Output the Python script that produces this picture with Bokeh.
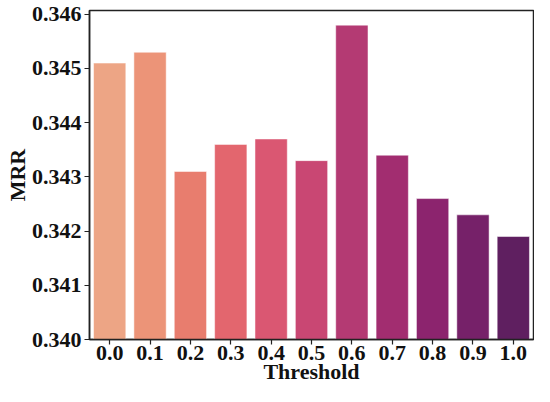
from bokeh.plotting import figure
from bokeh.models import Range1d, FixedTicker, NumeralTickFormatter, ColumnDataSource
from bokeh.embed import file_html
from bokeh.resources import INLINE

thresholds = ["0.0", "0.1", "0.2", "0.3", "0.4", "0.5", "0.6", "0.7", "0.8", "0.9", "1.0"]
mrr = [0.3451, 0.3453, 0.3431, 0.3436, 0.3437, 0.3433, 0.3458, 0.3434, 0.3426, 0.3423, 0.3419]
colors = ["#EDA585", "#EC9478", "#E87D6E", "#E3666E", "#DA5772", "#C94773",
          "#B43A73", "#A22D70", "#8C246E", "#762169", "#5F1F60"]
y_ticks = [0.340, 0.341, 0.342, 0.343, 0.344, 0.345, 0.346]

FONT = "Liberation Serif"

src = ColumnDataSource(dict(x=thresholds, top=mrr, color=colors))

p = figure(x_range=thresholds, y_range=Range1d(0.340, 0.34607),
           width=534, height=386, output_backend="svg", toolbar_location=None,
           min_border_left=89, min_border_right=1, min_border_top=10, min_border_bottom=46)

p.vbar(x="x", top="top", bottom=0, width=0.8, fill_color="color",
       line_color="white", line_alpha=0.5, line_width=1, source=src)

p.xgrid.visible = False
p.ygrid.visible = False
p.outline_line_color = "#222222"
p.outline_line_width = 1.5
p.background_fill_color = "white"
p.border_fill_color = "white"

for ax in (p.xaxis, p.yaxis):
    ax.axis_line_color = "#222222"
    ax.axis_line_width = 1.5
    ax.major_tick_line_color = "#222222"
    ax.major_tick_line_width = 1.2
    ax.major_tick_out = 5
    ax.major_tick_in = 0
    ax.minor_tick_line_color = None
    ax.major_label_text_font = FONT
    ax.major_label_text_font_style = "bold"
    ax.major_label_text_font_size = "22px"
    ax.major_label_text_color = "#111111"
    ax.axis_label_text_font = FONT
    ax.axis_label_text_font_style = "bold"
    ax.axis_label_text_font_size = "22px"
    ax.axis_label_text_color = "#111111"

p.yaxis.ticker = FixedTicker(ticks=y_ticks)
p.yaxis.formatter = NumeralTickFormatter(format="0.000")
p.yaxis.major_label_standoff = 3
p.yaxis.axis_label = "MRR"
p.yaxis.axis_label_standoff = -1
p.xaxis.axis_label = "Threshold"
p.xaxis.major_label_standoff = 1
p.xaxis.axis_label_standoff = -4

open("out.html", "w").write(file_html(p, INLINE))
